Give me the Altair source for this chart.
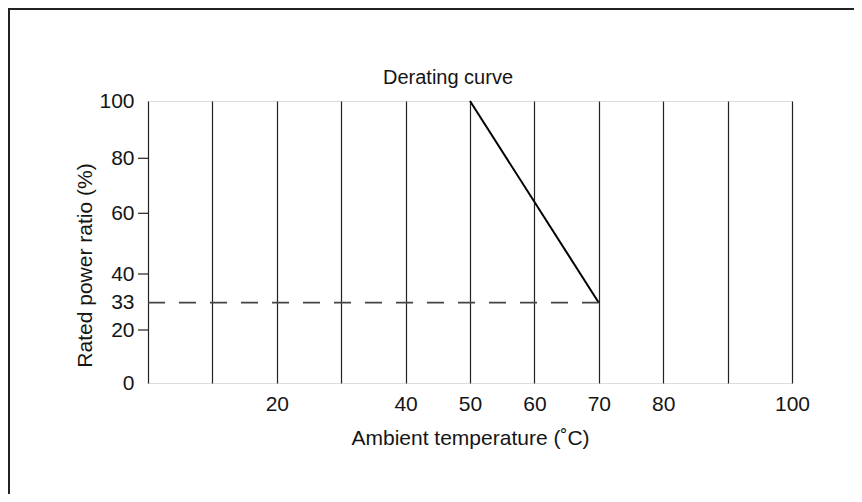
import altair as alt
import pandas as pd

# ---- data ----
curve_temp = [50, 70]
curve_ratio = [100, 33]
dash_temp = [0, 70]
dash_ratio = [33, 33]
x_grid_values = [0, 10, 20, 30, 40, 50, 60, 70, 80, 90, 100]
x_label_values = [20, 40, 50, 60, 70, 80, 100]
y_label_values = [0, 20, 33, 40, 60, 80, 100]
y_tick_values = [20, 40, 60, 80]

# piecewise y scale so the labelled ratios sit where the original drawing puts them
y_domain = [0, 20, 33, 40, 60, 80, 100]
y_range = [282, 229, 201.7, 173, 112.3, 57.3, 0]

W, H = 644, 282
FONT = "Liberation Sans"
TXT = "#151515"
FS = 21

curve_df = pd.DataFrame({"temp": curve_temp, "ratio": curve_ratio})
dash_df = pd.DataFrame({"temp": dash_temp, "ratio": dash_ratio})
ytick_df = pd.DataFrame({"ratio": y_tick_values})
one = pd.DataFrame({"k": [0]})

label_list = ",".join(str(v) for v in x_label_values)
x_scale = alt.Scale(domain=[0, 100], nice=False, zero=False)
y_scale = alt.Scale(domain=y_domain, range=y_range, nice=False, zero=False)

x_axis = alt.Axis(
    values=x_grid_values,
    labelExpr=f"indexof([{label_list}], datum.value) >= 0 ? datum.label : ''",
    grid=True, gridColor="#222", gridWidth=1.2, gridOpacity=1,
    ticks=False, domain=False, labelPadding=10, labelFlush=False,
    labelFont=FONT, labelFontSize=FS, labelColor=TXT,
    title="Ambient temperature (˚C)", titleFont=FONT, titleFontSize=FS,
    titleFontWeight="normal", titleColor=TXT, titlePadding=13,
)
y_axis = alt.Axis(
    values=y_label_values, grid=False, ticks=False, domain=False,
    labelPadding=14, labelFont=FONT, labelFontSize=FS, labelColor=TXT,
    title="Rated power ratio (%)", titleFont=FONT, titleFontSize=FS,
    titleFontWeight="normal", titleColor=TXT, titleX=-53, titleY=164,
)

curve = alt.Chart(curve_df).mark_line(color="#000", strokeWidth=2).encode(
    x=alt.X("temp:Q", scale=x_scale, axis=x_axis),
    y=alt.Y("ratio:Q", scale=y_scale, axis=y_axis),
)
dash = alt.Chart(dash_df).mark_line(color="#444", strokeWidth=1.8, strokeDash=[17, 14]).encode(
    x=alt.X("temp:Q", scale=x_scale),
    y=alt.Y("ratio:Q", scale=y_scale),
)
yticks = alt.Chart(ytick_df).mark_rule(color="#222", strokeWidth=1.2).encode(
    x=alt.value(-10), x2=alt.value(0),
    y=alt.Y("ratio:Q", scale=y_scale),
)
frame_top = alt.Chart(one).mark_rule(color="#222", strokeWidth=2).encode(
    x=alt.value(-140), x2=alt.value(720), y=alt.value(-92)
)
frame_left = alt.Chart(one).mark_rule(color="#222", strokeWidth=2).encode(
    x=alt.value(-139), y=alt.value(-93), y2=alt.value(400)
)

chart = alt.layer(frame_top, frame_left, curve, dash, yticks).properties(
    width=W, height=H,
    autosize=alt.AutoSizeParams(type="none"),
    padding={"left": 140, "top": 93, "right": 62, "bottom": 111},
    title=alt.TitleParams(
        "Derating curve", anchor="middle", dx=-22, offset=0, dy=81,
        font=FONT, fontSize=20, fontWeight="normal", color=TXT,
    ),
).configure_view(stroke="#111", strokeWidth=1.5).configure(background="white")

chart.save("out.html", embed_options={"renderer": "svg", "actions": False})
